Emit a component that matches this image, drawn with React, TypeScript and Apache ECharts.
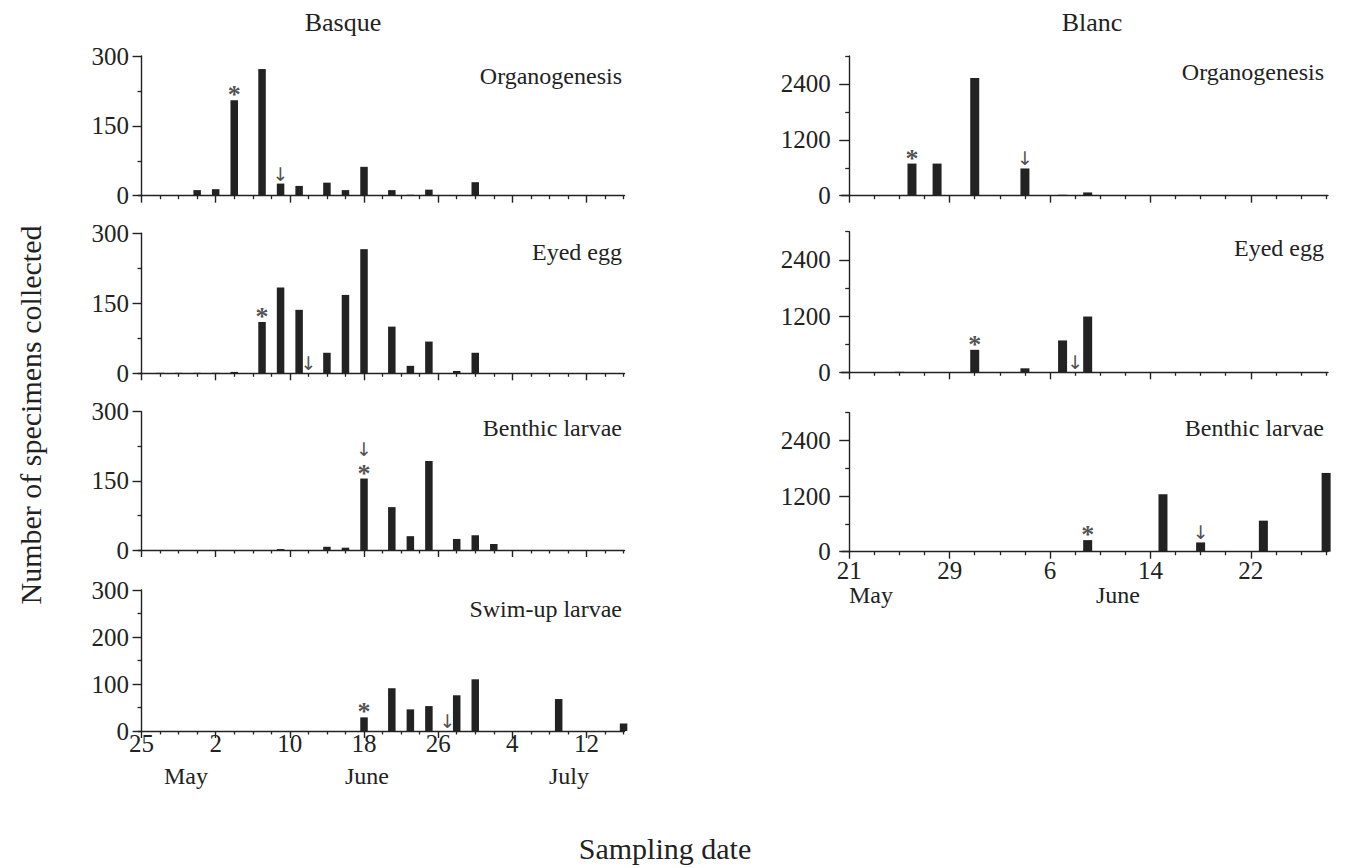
import React, { useEffect, useRef } from "react";
import * as echarts from "echarts";

// ---------- data ----------
// dates are "Mon d" strings; values = number of specimens collected
const basqueOrganogenesis: [string, number][] = [
  ["May 31", 12], ["Jun 2", 14], ["Jun 4", 205], ["Jun 7", 272], ["Jun 9", 26],
  ["Jun 11", 21], ["Jun 14", 28], ["Jun 16", 12], ["Jun 18", 62], ["Jun 21", 12],
  ["Jun 23", 2], ["Jun 25", 13], ["Jun 30", 29],
];
const basqueEyedEgg: [string, number][] = [
  ["May 27", 1], ["May 29", 1], ["May 31", 1], ["Jun 2", 1], ["Jun 4", 3],
  ["Jun 7", 110], ["Jun 9", 184], ["Jun 11", 136], ["Jun 14", 44], ["Jun 16", 168],
  ["Jun 18", 266], ["Jun 21", 100], ["Jun 23", 16], ["Jun 25", 68], ["Jun 28", 5],
  ["Jun 30", 44],
];
const basqueBenthicLarvae: [string, number][] = [
  ["Jun 9", 2], ["Jun 14", 7], ["Jun 16", 5], ["Jun 18", 155], ["Jun 21", 93],
  ["Jun 23", 30], ["Jun 25", 193], ["Jun 28", 24], ["Jun 30", 32], ["Jul 2", 13],
];
const basqueSwimUpLarvae: [string, number][] = [
  ["Jun 18", 29], ["Jun 21", 91], ["Jun 23", 46], ["Jun 25", 53], ["Jun 28", 76],
  ["Jun 30", 110], ["Jul 9", 68], ["Jul 16", 16],
];
const blancOrganogenesis: [string, number][] = [
  ["May 26", 690], ["May 28", 690], ["May 31", 2530], ["Jun 4", 585],
  ["Jun 7", 20], ["Jun 9", 70],
];
const blancEyedEgg: [string, number][] = [
  ["May 25", 10], ["May 31", 480], ["Jun 4", 85], ["Jun 7", 680], ["Jun 9", 1190],
  ["Jun 19", 5],
];
const blancBenthicLarvae: [string, number][] = [
  ["Jun 9", 250], ["Jun 15", 1240], ["Jun 16", 10], ["Jun 18", 200], ["Jun 19", 12],
  ["Jun 20", 10], ["Jun 23", 670], ["Jun 28", 1700],
];

// asterisk (*) and arrow (↓) marker dates per panel
const basqueStarDates = ["Jun 4", "Jun 7", "Jun 18", "Jun 18"];
const basqueArrowDates = ["Jun 9", "Jun 12", "Jun 18", "Jun 27"];
const blancStarDates = ["May 26", "May 31", "Jun 9"];
const blancArrowDates = ["Jun 4", "Jun 8", "Jun 18"];

const stageNames = ["Organogenesis", "Eyed egg", "Benthic larvae", "Swim-up larvae"];

// x tick labels
const basqueTickDates = ["May 25", "Jun 2", "Jun 10", "Jun 18", "Jun 26", "Jul 4", "Jul 12"];
const basqueTickLabels = ["25", "2", "10", "18", "26", "4", "12"];
const blancTickDates = ["May 21", "May 29", "Jun 6", "Jun 14", "Jun 22"];
const blancTickLabels = ["21", "29", "6", "14", "22"];

// y ticks
const basqueYMajor = [0, 150, 300];
const basqueYMinor = [75, 225];
const swimYMajor = [0, 100, 200, 300];
const swimYMinor = [50, 150, 250];
const blancYMajor = [0, 1200, 2400];
const blancYMinor = [600, 1800, 3000];

// ---------- helpers ----------
const MONTH_OFFSET: Record<string, number> = { May: 0, Jun: 31, Jul: 61 };
const ord = (d: string) => {
  const [m, n] = d.split(" ");
  return MONTH_OFFSET[m] + Number(n);
};
const BASQUE_ORIGIN = ord("May 25");
const BLANC_ORIGIN = ord("May 21");

const INK = "#222";
const SERIF = "'Liberation Serif', 'Times New Roman', serif";
const ARROW_FONT = "'DejaVu Sans', sans-serif";

export default function App() {
  const ref = useRef<HTMLDivElement>(null);

  useEffect(() => {
    if (!ref.current) return;
    const chart = echarts.init(ref.current, undefined, { renderer: "svg" });

    type Panel = {
      grid: { left: number; top: number; width: number; height: number };
      origin: number;
      xMin: number; xMax: number;
      tickDates: string[]; tickLabels: string[];
      data: [string, number][];
      star: string; arrow: string;
      yMajor: number[]; yMinor: number[]; yMax: number;
      showX: boolean; barWidth: number;
      xLabelMargin: number; yLabelMargin: number; yTickLen: number;
    };

    const LW = 486.5, RW = 486.3;
    const basqueSets = [basqueOrganogenesis, basqueEyedEgg, basqueBenthicLarvae, basqueSwimUpLarvae];
    const blancSets = [blancOrganogenesis, blancEyedEgg, blancBenthicLarvae];
    const basqueTops = [56, 233.3, 411.7, 590];
    const basqueHeights = [139.7, 140, 138.3, 141];
    const blancTops = [56, 231.7, 412.7];
    const blancHeights = [139.7, 140.6, 139];

    const panels: Panel[] = [];
    basqueSets.forEach((d, i) => {
      panels.push({
        grid: { left: 138, top: basqueTops[i], width: LW, height: basqueHeights[i] },
        origin: BASQUE_ORIGIN, xMin: -0.38, xMax: 52.1,
        tickDates: basqueTickDates, tickLabels: basqueTickLabels,
        data: d, star: basqueStarDates[i], arrow: basqueArrowDates[i],
        yMajor: i === 3 ? swimYMajor : basqueYMajor,
        yMinor: i === 3 ? swimYMinor : basqueYMinor,
        yMax: 300, showX: i === 3, barWidth: 7.5,
        xLabelMargin: 0, yLabelMargin: 9, yTickLen: 9,
      });
    });
    blancSets.forEach((d, i) => {
      panels.push({
        grid: { left: 841.7, top: blancTops[i], width: RW, height: blancHeights[i] },
        origin: BLANC_ORIGIN, xMin: -0.6, xMax: 38.15,
        tickDates: blancTickDates, tickLabels: blancTickLabels,
        data: d, star: blancStarDates[i], arrow: blancArrowDates[i],
        yMajor: blancYMajor, yMinor: blancYMinor, yMax: 3000,
        showX: i === 2, barWidth: 9,
        xLabelMargin: 6, yLabelMargin: 11, yTickLen: 10,
      });
    });

    const grid: any[] = [];
    const xAxis: any[] = [];
    const yAxis: any[] = [];
    const series: any[] = [];

    panels.forEach((p, i) => {
      grid.push({ ...p.grid });
      const majorDays = p.tickDates.map((d) => ord(d) - p.origin);
      const minorDays: number[] = [];
      for (let d = 2; d <= p.xMax; d += 2) if (d % 8 !== 0) minorDays.push(d);
      const labelFont = { fontFamily: SERIF, fontSize: 25, color: INK };
      xAxis.push({
        type: "value", gridIndex: i, position: "bottom", min: p.xMin, max: p.xMax,
        axisLine: { show: true, lineStyle: { color: INK, width: 1.4 } },
        axisTick: { show: true, customValues: majorDays, length: 7, lineStyle: { color: INK, width: 1.4 } },
        axisLabel: {
          show: p.showX, customValues: majorDays, margin: p.xLabelMargin, ...labelFont,
          formatter: (v: number) => {
            const k = majorDays.findIndex((m) => Math.abs(m - v) < 1e-6);
            return k >= 0 ? p.tickLabels[k] : "";
          },
        },
        splitLine: { show: false },
      });
      xAxis.push({
        type: "value", gridIndex: i, position: "bottom", min: p.xMin, max: p.xMax,
        axisLine: { show: false },
        axisTick: { show: true, customValues: minorDays, length: 3.5, lineStyle: { color: INK, width: 1.3 } },
        axisLabel: { show: false },
        splitLine: { show: false },
      });
      yAxis.push({
        type: "value", gridIndex: i, position: "left", min: 0, max: p.yMax,
        axisLine: { show: true, lineStyle: { color: INK, width: 1.4 } },
        axisTick: { show: true, customValues: p.yMajor, length: p.yTickLen, lineStyle: { color: INK, width: 1.4 } },
        axisLabel: {
          show: true, customValues: p.yMajor, margin: p.yLabelMargin, ...labelFont,
          formatter: (v: number) => String(Math.round(v)),
        },
        splitLine: { show: false },
      });
      yAxis.push({
        type: "value", gridIndex: i, position: "left", min: 0, max: p.yMax,
        axisLine: { show: false },
        axisTick: { show: true, customValues: p.yMinor, length: 4, lineStyle: { color: INK, width: 1.3 } },
        axisLabel: { show: false },
        splitLine: { show: false },
      });

      const pts = p.data.map(([d, v]) => [ord(d) - p.origin, v]);
      series.push({
        type: "bar", xAxisIndex: 2 * i, yAxisIndex: 2 * i,
        data: pts, barWidth: p.barWidth, clip: false,
        itemStyle: { color: INK }, silent: true,
      });
      const valueAt = (date: string) => {
        const f = p.data.find(([d]) => d === date);
        return f ? f[1] : 0;
      };
      const sameDate = p.star === p.arrow;
      series.push({
        type: "scatter", xAxisIndex: 2 * i, yAxisIndex: 2 * i,
        data: [[ord(p.star) - p.origin, valueAt(p.star)]],
        symbolSize: 1, itemStyle: { color: "rgba(0,0,0,0)" }, silent: true,
        label: {
          show: true, position: "top", distance: -8, formatter: "*",
          fontFamily: SERIF, fontSize: 26, fontWeight: "bold", color: INK,
        },
      });
      series.push({
        type: "scatter", xAxisIndex: 2 * i, yAxisIndex: 2 * i,
        data: [[ord(p.arrow) - p.origin, valueAt(p.arrow)]],
        symbolSize: 1, itemStyle: { color: "rgba(0,0,0,0)" }, silent: true,
        label: {
          show: true, position: "top", distance: sameDate ? 20 : 0, formatter: "\u2193",
          fontFamily: ARROW_FONT, fontSize: 19, color: INK,
        },
      });
    });

    const txt = (text: string, x: number, y: number, size: number, align = "center", extra: any = {}) => ({
      type: "text", x, y, silent: true, ...extra,
      style: { text, fill: INK, font: `${size}px ${SERIF}`, align, verticalAlign: "middle" },
    });

    const graphic: any[] = [
      txt("Basque", 343, 22, 26),
      txt("Blanc", 1092, 22, 26),
      txt("Sampling date", 665, 848, 30),
      txt("Number of specimens collected", 30, 415, 30, "center", { rotation: Math.PI / 2 }),
      // month labels under the date ticks
      txt("May", 186, 776, 24), txt("June", 367, 776, 24), txt("July", 569, 776, 24),
      txt("May", 871, 595, 24), txt("June", 1118, 595, 24),
    ];
    const basqueLabelY = [76, 252, 428, 609];
    const blancLabelY = [72, 248, 428];
    stageNames.forEach((n, i) => graphic.push(txt(n, 622, basqueLabelY[i], 24, "right")));
    stageNames.slice(0, 3).forEach((n, i) => graphic.push(txt(n, 1324, blancLabelY[i], 24, "right")));

    chart.setOption({
      animation: false,
      backgroundColor: "#fff",
      grid, xAxis, yAxis, series, graphic,
    });
    return () => chart.dispose();
  }, []);

  return (
    <div
      ref={ref}
      style={{ position: "fixed", left: 0, top: 0, width: 1348, height: 868, background: "#fff" }}
    />
  );
}
